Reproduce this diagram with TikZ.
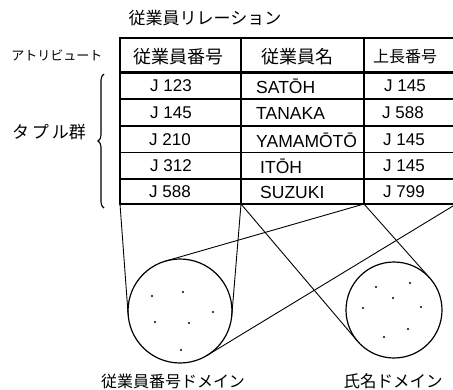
\documentclass[tikz,border=0pt]{standalone}
\usepackage{fontspec}
\setmainfont{Liberation Sans}
\newfontfamily\jp{Noto Sans CJK JP}
\usetikzlibrary{calc,decorations.pathreplacing}
\begin{document}
\begin{tikzpicture}[x=1pt,y=-1pt,
  lat/.style={font=\fontsize{17}{17}\selectfont, inner sep=0pt},
  jpt/.style={font=\jp\fontsize{16}{16}\selectfont, inner sep=0pt},
  dom/.style={circle, draw, line width=1.2pt, minimum size=104pt, inner sep=0pt, outer sep=0pt},
  gridline/.style={line width=1.4pt},
  conn/.style={line width=0.9pt},
  dotpt/.style={circle, fill, inner sep=0pt, minimum size=2.4pt}]
\useasboundingbox (0,0) rectangle (453,389);
% table
\draw[gridline] (453,38) -- (120,38) -- (120,204) -- (453,204);
\draw[gridline] (241,38) -- (241,204);
\draw[gridline] (364,38) -- (364,204);
\draw[line width=3pt] (120,72) -- (453,72);
\foreach \y in {99,126,152.5,179} \draw[gridline] (120,\y) -- (453,\y);
% titles
\node[jpt, font=\jp\fontsize{17}{17}\selectfont] (title) at (205,18) {従業員リレーション};
\node[jpt, font=\jp\fontsize{13}{13}\selectfont] (attr) at (57,55) {アトリビュート};
\node[jpt, font=\jp\fontsize{17}{17}\selectfont] (tuple) at (49,132) {タ\,プ\,ル群};
\node[jpt, font=\jp\fontsize{18}{18}\selectfont] (h1) at (178,57) {従業員番号};
\node[jpt, font=\jp\fontsize{18}{18}\selectfont] (h2) at (297,57) {従業員名};
\node[jpt, font=\jp\fontsize{16}{16}\selectfont] (h3) at (405,57) {上長番号};
% data
\node[lat] (a1) at (171,86) {J 123};
\node[lat] (a2) at (171,113) {J 145};
\node[lat] (a3) at (170,140) {J 210};
\node[lat] (a4) at (171,166) {J 312};
\node[lat] (a5) at (170,192) {J 588};
\node[lat, anchor=west, font=\fontsize{17.5}{17.5}\selectfont] (n1) at (256,86) {SATŌH};
\node[lat, anchor=west, font=\fontsize{17.5}{17.5}\selectfont] (n2) at (256,113) {TANAKA};
\node[lat, anchor=west, font=\fontsize{17.5}{17.5}\selectfont] (n3) at (256,140) {YAMAMŌTŌ};
\node[lat, anchor=west, font=\fontsize{17.5}{17.5}\selectfont] (n4) at (260,166) {ITŌH};
\node[lat, anchor=west, font=\fontsize{17.5}{17.5}\selectfont] (n5) at (260,192) {SUZUKI};
\node[lat] (s1) at (405,86) {J 145};
\node[lat] (s2) at (403,113) {J 588};
\node[lat] (s3) at (404,140) {J 145};
\node[lat] (s4) at (404,166) {J 145};
\node[lat] (s5) at (404,192) {J 799};
% brace
\draw[line width=1.1pt, decorate, decoration={brace, amplitude=6pt}] (104,208) -- (104,74);
% domains
\node[dom] (D1) at (180,311) {};
\node[dom, minimum size=96pt] (D2) at (394,310) {};
\foreach \px/\py [count=\i] in {152/296,183/292,213/312,155/322,189/323,181/350}
  \node[dotpt] (p\i) at (\px,\py) {};
\foreach \px/\py [count=\i] in {376/287,410/283,393/298,363/308,421/307,408/329,384/337}
  \node[dotpt] (q\i) at (\px,\py) {};
\node[jpt] (l1) at (173,381) {従業員番号ドメイン};
\node[jpt, font=\jp\fontsize{16.5}{16.5}\selectfont] (l2) at (393,381) {氏名ドメイン};
% connectors
\coordinate (b0) at (120,204);
\coordinate (b1) at (241,204);
\coordinate (b2) at (364,204);
\coordinate (b3) at (453,206);
\draw[conn] (b0) -- (tangent cs:node=D1,point={(b0)},solution=1);
\draw[conn] (b1) -- (tangent cs:node=D1,point={(b1)},solution=2);
\draw[conn] (b2) -- (tangent cs:node=D1,point={(b2)},solution=1);
\draw[conn] (b3) -- (tangent cs:node=D1,point={(b3)},solution=2);
\draw[conn] (b1) -- (tangent cs:node=D2,point={(b1)},solution=1);
\draw[conn] (b2) -- (tangent cs:node=D2,point={(b2)},solution=2);
\end{tikzpicture}
\end{document}
